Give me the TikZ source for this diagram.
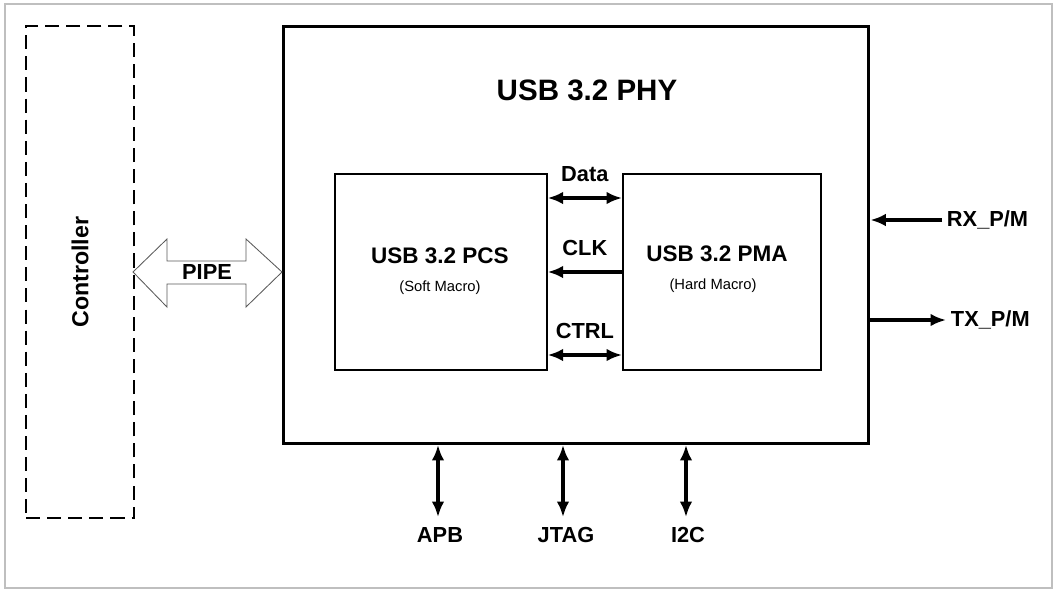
\documentclass[tikz,border=0pt]{standalone}
\usepackage{fontspec}
\setmainfont{Liberation Sans}
\usetikzlibrary{arrows.meta, positioning}

\begin{document}
\begin{tikzpicture}[x=0.025cm, y=-0.025cm, >={Latex[length=11pt,width=9pt]}]
    \tikzstyle{block} = [draw, line width=1.2pt, inner sep=0pt, anchor=north west]
    \tikzstyle{lbl} = [font=\bfseries\fontsize{15.5}{18}\selectfont]
    \tikzstyle{sig} = [<->, line width=2.4pt]
    \useasboundingbox (0,0) rectangle (1061,595);
    \draw[gray!50, line width=0.8pt] (5,4) rectangle (1052,588);
    % controller and phy
    \node [block, dashed, line width=1.6pt, dash pattern=on 10pt off 5pt, minimum width=108*0.025cm, minimum height=492*0.025cm] at (25,25) (ctrl) {};
    \node [lbl, font=\bfseries\fontsize{16.5}{20}\selectfont, rotate=90] at (ctrl.center) {Controller};
    \node [block, line width=2.4pt, minimum width=585*0.025cm, minimum height=417*0.025cm] at (282,25) (phy) {};
    \node [font=\bfseries\fontsize{21}{25}\selectfont] at (587,90) (title) {USB 3.2 PHY};
    \node [block, minimum width=212*0.025cm, minimum height=196*0.025cm] at (334,173) (pcs) {};
    \node [block, minimum width=198*0.025cm, minimum height=196*0.025cm] at (622,173) (pma) {};
    \node [lbl, font=\bfseries\fontsize{16}{19}\selectfont] at (440,256) {USB 3.2 PCS};
    \node [font=\fontsize{10.5}{12}\selectfont] at (440,288) {(Soft Macro)};
    \node [lbl, font=\bfseries\fontsize{16}{19}\selectfont] at (717,254) {USB 3.2 PMA};
    \node [font=\fontsize{10.5}{12}\selectfont] at (713,286) {(Hard Macro)};
    % internal links
    \draw[sig] (pcs.east |- 0,198) -- (pma.west |- 0,198) node[lbl, midway, above=7pt] {Data};
    \draw[->, line width=2.4pt] (pma.west |- 0,272) -- (pcs.east |- 0,272) node[lbl, midway, above=7pt] {CLK};
    \draw[sig] (pcs.east |- 0,355) -- (pma.west |- 0,355) node[lbl, midway, above=7pt] {CTRL};
    % pipe
    \draw[gray!70!black, fill=white, line width=0.6pt] (133,272) -- (167,239) -- (167,261) -- (246,261) -- (246,239)
        -- (282,272) -- (246,307) -- (246,284) -- (167,284) -- (167,307) -- cycle;
    \node [lbl] at (207,272) {PIPE};
    % serial side
    \node [lbl, anchor=west] at (942,220) (rx) {RX\_P/M};
    \node [lbl, anchor=west] at (946,320) (tx) {TX\_P/M};
    \draw[->, line width=2.4pt] (rx.west) -- (phy.east |- rx.west);
    \draw[->, line width=2.4pt] (phy.east |- tx.west) -- (tx.west);
    % bottom interfaces
    \node [lbl] at (440,535) (apb) {APB};
    \node [lbl] at (566,535) (jtag) {JTAG};
    \node [lbl] at (688,535) (iic) {I2C};
    \draw[sig] (438,445) -- (438,517);
    \draw[sig] (563,445) -- (563,517);
    \draw[sig] (686,445) -- (686,517);
\end{tikzpicture}
\end{document}
